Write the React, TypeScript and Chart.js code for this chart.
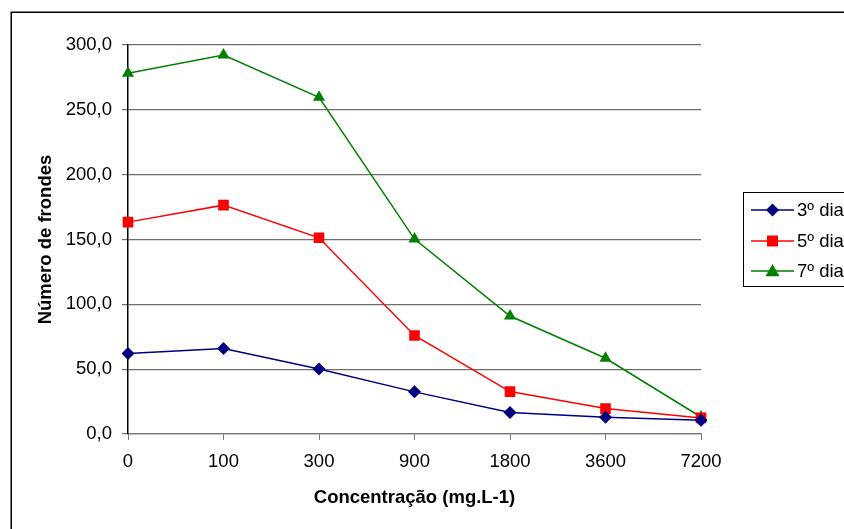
import React, { useEffect, useRef } from "react";
import { Chart, registerables } from "chart.js";

Chart.register(...registerables);

const categories = ["0", "100", "300", "900", "1800", "3600", "7200"];
const dia3 = [62, 65.9, 50.2, 32.5, 16.5, 12.9, 10.6];
const dia5 = [163.4, 176.5, 151.3, 76, 32.7, 19.6, 12.4];
const dia7 = [278.2, 292.3, 259.7, 150.3, 91, 58.4, 13.1];
const seriesLabels = ["3º dia", "5º dia", "7º dia"];
const seriesColors = ["#000080", "#FF0000", "#008000"];
const seriesMarkers = ["rectRot", "rect", "triangle"];
const yTitle = "Número de frondes";
const xTitle = "Concentração (mg.L-1)";

const FONT = "'Liberation Sans', Arial, sans-serif";
const FS = 18.5;

function drawMarker(ctx: CanvasRenderingContext2D, style: string, x: number, y: number, color: string) {
  ctx.save();
  ctx.fillStyle = color;
  ctx.beginPath();
  if (style === "rectRot") {
    const r = 6.5;
    ctx.moveTo(x, y - r);
    ctx.lineTo(x + r, y);
    ctx.lineTo(x, y + r);
    ctx.lineTo(x - r, y);
  } else if (style === "rect") {
    const r = 5.5;
    ctx.rect(x - r, y - r, 2 * r, 2 * r);
  } else {
    const r = 7;
    ctx.moveTo(x, y - r);
    ctx.lineTo(x + r, y + r * 0.75);
    ctx.lineTo(x - r, y + r * 0.75);
  }
  ctx.closePath();
  ctx.fill();
  ctx.restore();
}

const framePlugin = {
  id: "frame",
  beforeDraw(chart: any) {
    const ctx = chart.ctx as CanvasRenderingContext2D;
    ctx.save();
    ctx.fillStyle = "#ffffff";
    ctx.fillRect(0, 0, chart.width, chart.height);
    ctx.strokeStyle = "#000000";
    ctx.lineWidth = 1.5;
    ctx.strokeRect(11.25, 12.25, chart.width + 50, chart.height + 50);
    ctx.restore();
  },
  afterDraw(chart: any) {
    const ctx = chart.ctx as CanvasRenderingContext2D;
    ctx.save();
    const bx = 743.5;
    const by = 192.5;
    const bh = 94;
    ctx.fillStyle = "#ffffff";
    ctx.fillRect(bx, by, 200, bh);
    ctx.strokeStyle = "#000000";
    ctx.lineWidth = 1;
    ctx.strokeRect(bx, by, 200, bh);
    const rows = [210, 241, 271];
    chart.data.datasets.forEach((ds: any, i: number) => {
      const y = rows[i];
      ctx.strokeStyle = ds.borderColor;
      ctx.lineWidth = 1.5;
      ctx.beginPath();
      ctx.moveTo(751, y);
      ctx.lineTo(794, y);
      ctx.stroke();
      drawMarker(ctx, ds.pointStyle, 772.5, y, ds.borderColor);
      ctx.fillStyle = "#000000";
      ctx.font = `${FS}px ${FONT}`;
      ctx.textBaseline = "middle";
      ctx.textAlign = "left";
      ctx.fillText(ds.label, 797, y + 1);
    });
    ctx.restore();
  },
};

export default function App() {
  const ref = useRef<HTMLCanvasElement | null>(null);

  useEffect(() => {
    if (!ref.current) return;
    const values = [dia3, dia5, dia7];
    const chart = new Chart(ref.current, {
      type: "line",
      data: {
        labels: categories,
        datasets: values.map((v, i) => ({
          label: seriesLabels[i],
          data: v,
          borderColor: seriesColors[i],
          backgroundColor: seriesColors[i],
          pointBackgroundColor: seriesColors[i],
          pointBorderColor: seriesColors[i],
          pointStyle: seriesMarkers[i] as any,
          pointRadius: i === 1 ? 7.5 : i === 0 ? 6.5 : 7,
          pointBorderWidth: 0,
          borderWidth: 1.5,
          tension: 0,
          fill: false,
        })),
      },
      options: {
        animation: false,
        responsive: false,
        devicePixelRatio: 1,
        layout: { padding: { left: 0, top: 45, right: 143, bottom: 0 } },
        plugins: {
          legend: { display: false },
          tooltip: { enabled: false },
        },
        scales: {
          x: {
            type: "category",
            offset: false,
            afterFit: (s: any) => {
              s.height = 95;
            },
            grid: {
              drawOnChartArea: false,
              drawTicks: true,
              tickLength: 6,
              color: "#7a7a7a",
              lineWidth: 1,
            },
            border: { color: "#7a7a7a", width: 1.2 },
            ticks: {
              color: "#000000",
              padding: 11,
              maxRotation: 0,
              autoSkip: false,
              font: { family: FONT, size: FS },
            },
            title: {
              display: true,
              text: xTitle,
              color: "#000000",
              padding: { top: 0, bottom: 20 },
              font: { family: FONT, size: FS, weight: "bold" },
            },
          },
          y: {
            min: 0,
            max: 300,
            afterFit: (s: any) => {
              s.width = 128;
            },
            ticks: {
              stepSize: 50,
              color: "#000000",
              padding: 10,
              font: { family: FONT, size: FS },
              callback: (v: any) => Number(v).toFixed(1).replace(".", ","),
            },
            grid: {
              color: "#6e6e6e",
              lineWidth: 1.2,
              drawTicks: true,
              tickLength: 6,
            },
            border: { color: "#000000", width: 1.5 },
            title: {
              display: true,
              text: yTitle,
              color: "#000000",
              padding: { top: 35, bottom: 0 },
              font: { family: FONT, size: FS, weight: "bold" },
            },
          },
        },
      },
      plugins: [framePlugin],
    });
    return () => chart.destroy();
  }, []);

  return (
    <div style={{ position: "absolute", left: 0, top: 0, width: 844, height: 529, overflow: "hidden" }}>
      <canvas ref={ref} width={844} height={529} style={{ display: "block" }} />
    </div>
  );
}
